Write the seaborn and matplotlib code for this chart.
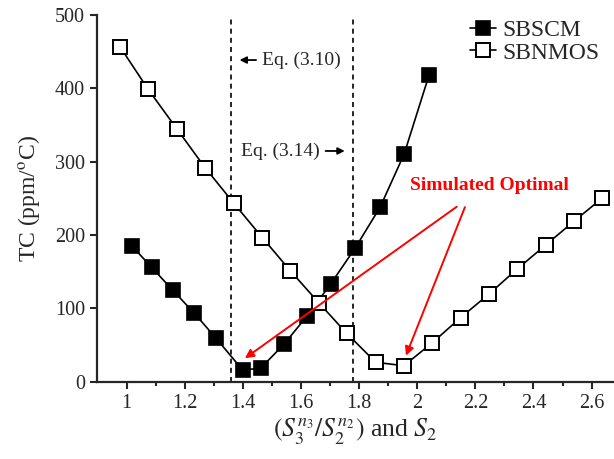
import numpy as np
import pandas as pd
import matplotlib
matplotlib.use("Agg")
import matplotlib.pyplot as plt
import seaborn as sns

# datos
x_sbscm = [1.017, 1.086, 1.158, 1.233, 1.306, 1.399, 1.461, 1.541, 1.621, 1.702, 1.786, 1.872, 1.955, 2.041]
tc_sbscm = [185.5, 156, 125, 93.3, 60, 16, 18.3, 51, 89.6, 133.2, 182, 237.8, 310.5, 418.6]

x_sbnmos = [0.977, 1.074, 1.173, 1.270, 1.368, 1.467, 1.563, 1.661, 1.757, 1.857, 1.954,
            2.052, 2.149, 2.247, 2.344, 2.442, 2.539, 2.637]
tc_sbnmos = [456.8, 398.7, 344.6, 291.8, 243.7, 196.4, 151.4, 107.7, 66, 26.5, 21.8,
             53.2, 87.3, 119.6, 153.7, 186.4, 218.7, 250.5]

eq_lines = [1.359, 1.778]
x_ticks = [1, 1.2, 1.4, 1.6, 1.8, 2, 2.2, 2.4, 2.6]
x_ticklabels = ["1", "1.2", "1.4", "1.6", "1.8", "2", "2.2", "2.4", "2.6"]
y_ticks = [0, 100, 200, 300, 400, 500]

df1 = pd.DataFrame({"x": x_sbscm, "tc": tc_sbscm})
df2 = pd.DataFrame({"x": x_sbnmos, "tc": tc_sbnmos})

sns.set_style("ticks")
plt.rcParams["font.family"] = ["Liberation Serif", "DejaVu Serif"]
plt.rcParams["mathtext.fontset"] = "stix"

fig = plt.figure(figsize=(6.14, 4.59), dpi=100)
ax = fig.add_axes([0.1575, 0.1684, 0.8425, 0.7989])

sns.lineplot(data=df1, x="x", y="tc", ax=ax, color="black", marker="s", markersize=10,
             markerfacecolor="black", markeredgecolor="black", markeredgewidth=1.2,
             linewidth=1.2, label="SBSCM", clip_on=False)
sns.lineplot(data=df2, x="x", y="tc", ax=ax, color="black", marker="s", markersize=10,
             markerfacecolor="white", markeredgecolor="black", markeredgewidth=1.4,
             linewidth=1.2, label="SBNMOS", clip_on=False)

for xv in eq_lines:
    ax.plot([xv, xv], [0, 494], color="black", linestyle=(0, (3, 2.5)), linewidth=1.2, zorder=1)

# anotaciones
ax.annotate("", xy=(1.379, 438.6), xytext=(1.455, 438.6),
            arrowprops=dict(arrowstyle="-|>", color="black", lw=1.3, mutation_scale=10))
ax.text(1.465, 438.6, "Eq. (3.10)", fontsize=14, va="center", ha="left")
ax.text(1.665, 314.6, "Eq. (3.14)", fontsize=14, va="center", ha="right")
ax.annotate("", xy=(1.76, 314.6), xytext=(1.675, 314.6),
            arrowprops=dict(arrowstyle="-|>", color="black", lw=1.3, mutation_scale=10))

ax.text(2.247, 268, "Simulated Optimal", fontsize=14, fontweight="bold", color="red",
        ha="center", va="center")
ax.annotate("", xy=(1.407, 31.9), xytext=(2.136, 238.6),
            arrowprops=dict(arrowstyle="-|>", color="red", lw=1.4, mutation_scale=13,
                            shrinkA=0, shrinkB=0))
ax.annotate("", xy=(1.961, 35.5), xytext=(2.164, 238),
            arrowprops=dict(arrowstyle="-|>", color="red", lw=1.4, mutation_scale=13,
                            shrinkA=0, shrinkB=0))

ax.set_xlim(0.897, 2.677)
ax.set_ylim(0, 500)
ax.set_xticks(x_ticks)
ax.set_xticklabels(x_ticklabels)
ax.set_xticks(np.arange(1.1, 2.61, 0.2), minor=True)
ax.set_yticks(y_ticks)
ax.tick_params(axis="both", which="major", labelsize=14.5, length=5, width=1.5, direction="out")
ax.tick_params(axis="x", which="minor", length=3, width=1.5, direction="out")

sns.despine(ax=ax)
for s in ["left", "bottom"]:
    ax.spines[s].set_linewidth(1.6)

ax.set_xlabel(r"$(S_3^{n_3}/S_2^{n_2})$ and $S_2$", fontsize=18.5, labelpad=3)
ax.set_ylabel(r"TC (ppm/$^{\mathrm{o}}$C)", fontsize=17, labelpad=9)

ax.legend(loc="upper left", bbox_to_anchor=(0.722, 0.988), frameon=False, fontsize=17,
          handlelength=1.1, handletextpad=0.25, labelspacing=0.05, borderaxespad=0,
          borderpad=0)

plt.savefig("out.png", dpi=100)
